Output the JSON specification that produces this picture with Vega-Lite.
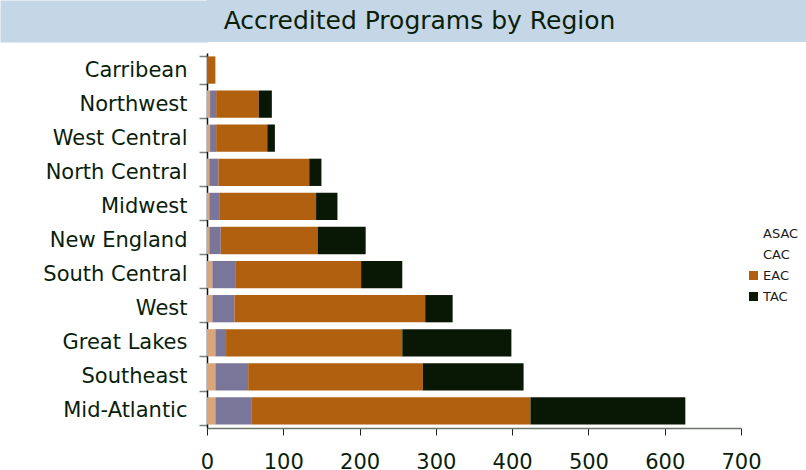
{
  "$schema": "https://vega.github.io/schema/vega-lite/v6.json",
  "padding": {"left": -21, "top": 0, "right": 0, "bottom": 0},
  "background": "white",
  "spacing": 11,
  "bounds": "flush",
  "config": {"view": {"stroke": null}, "font": "DejaVu Sans"},
  "vconcat": [
    {
      "width": 599,
      "height": 42,
      "view": {"fill": "#c5d6e6", "stroke": null},
      "data": {"values": [{"title": "Accredited Programs by Region", "row": "title"}]},
      "mark": {"type": "text", "font": "DejaVu Sans", "fontSize": 25, "color": "#0a1e0a", "dx": -87, "baseline": "middle", "align": "center"},
      "encoding": {
        "y": {
          "field": "row",
          "type": "nominal",
          "scale": {"paddingInner": 0, "paddingOuter": 0},
          "axis": {"title": null, "labels": false, "domain": false, "grid": false, "ticks": true, "tickSize": 207, "tickWidth": 42, "tickCap": "butt", "tickColor": "#c5d6e6"}
        },
        "text": {"field": "title", "type": "nominal"}
      }
    },
    {
      "width": 534,
      "height": 375,
      "data": {
        "values": [
          {"region": "Carribean", "commission": "ASAC", "programs": 0},
          {"region": "Carribean", "commission": "CAC", "programs": 0},
          {"region": "Carribean", "commission": "EAC", "programs": 11},
          {"region": "Carribean", "commission": "TAC", "programs": 0},
          {"region": "Northwest", "commission": "ASAC", "programs": 4},
          {"region": "Northwest", "commission": "CAC", "programs": 8},
          {"region": "Northwest", "commission": "EAC", "programs": 56},
          {"region": "Northwest", "commission": "TAC", "programs": 17},
          {"region": "West Central", "commission": "ASAC", "programs": 4},
          {"region": "West Central", "commission": "CAC", "programs": 8},
          {"region": "West Central", "commission": "EAC", "programs": 67},
          {"region": "West Central", "commission": "TAC", "programs": 10},
          {"region": "North Central", "commission": "ASAC", "programs": 3},
          {"region": "North Central", "commission": "CAC", "programs": 12},
          {"region": "North Central", "commission": "EAC", "programs": 119},
          {"region": "North Central", "commission": "TAC", "programs": 16},
          {"region": "Midwest", "commission": "ASAC", "programs": 3},
          {"region": "Midwest", "commission": "CAC", "programs": 13},
          {"region": "Midwest", "commission": "EAC", "programs": 127},
          {"region": "Midwest", "commission": "TAC", "programs": 28},
          {"region": "New England", "commission": "ASAC", "programs": 3},
          {"region": "New England", "commission": "CAC", "programs": 15},
          {"region": "New England", "commission": "EAC", "programs": 127},
          {"region": "New England", "commission": "TAC", "programs": 63},
          {"region": "South Central", "commission": "ASAC", "programs": 7},
          {"region": "South Central", "commission": "CAC", "programs": 30},
          {"region": "South Central", "commission": "EAC", "programs": 165},
          {"region": "South Central", "commission": "TAC", "programs": 54},
          {"region": "West", "commission": "ASAC", "programs": 7},
          {"region": "West", "commission": "CAC", "programs": 29},
          {"region": "West", "commission": "EAC", "programs": 250},
          {"region": "West", "commission": "TAC", "programs": 36},
          {"region": "Great Lakes", "commission": "ASAC", "programs": 11},
          {"region": "Great Lakes", "commission": "CAC", "programs": 14},
          {"region": "Great Lakes", "commission": "EAC", "programs": 231},
          {"region": "Great Lakes", "commission": "TAC", "programs": 143},
          {"region": "Southeast", "commission": "ASAC", "programs": 11},
          {"region": "Southeast", "commission": "CAC", "programs": 43},
          {"region": "Southeast", "commission": "EAC", "programs": 229},
          {"region": "Southeast", "commission": "TAC", "programs": 132},
          {"region": "Mid-Atlantic", "commission": "ASAC", "programs": 11},
          {"region": "Mid-Atlantic", "commission": "CAC", "programs": 47},
          {"region": "Mid-Atlantic", "commission": "EAC", "programs": 366},
          {"region": "Mid-Atlantic", "commission": "TAC", "programs": 203}
        ]
      },
      "mark": {"type": "bar"},
      "encoding": {
        "y": {
          "field": "region",
          "type": "nominal",
          "sort": ["Carribean", "Northwest", "West Central", "North Central", "Midwest", "New England", "South Central", "West", "Great Lakes", "Southeast", "Mid-Atlantic"],
          "scale": {"paddingInner": 0.2, "paddingOuter": 0.1},
          "axis": {
            "title": null,
            "labelFont": "DejaVu Sans",
            "labelFontSize": 21,
            "labelColor": "#0a1e0a",
            "labelPadding": 12,
            "labelLimit": 400,
            "tickBand": "extent",
            "tickSize": 8,
            "tickColor": "#7a857a",
            "tickWidth": 1.5,
            "domainColor": "#111111",
            "domainWidth": 1.5
          }
        },
        "x": {
          "field": "programs",
          "type": "quantitative",
          "stack": "zero",
          "scale": {"domain": [0, 700], "nice": false},
          "axis": {
            "title": null,
            "values": [0, 100, 200, 300, 400, 500, 600, 700],
            "grid": false,
            "labelFont": "DejaVu Sans",
            "labelFontSize": 21,
            "labelColor": "#0a1e0a",
            "labelPadding": 16,
            "labelFlush": false,
            "tickSize": 7,
            "tickColor": "#222222",
            "domainColor": "#6b756b",
            "domainWidth": 1.5
          }
        },
        "color": {
          "field": "commission",
          "type": "nominal",
          "scale": {"domain": ["ASAC", "CAC", "EAC", "TAC"], "range": ["#dba57a", "#7a769a", "#b0600e", "#081804"]},
          "legend": {
            "title": null,
            "orient": "none",
            "legendX": 540,
            "legendY": 227,
            "padding": 0,
            "symbolType": "square",
            "symbolSize": 81,
            "symbolStrokeWidth": 0,
            "labelFont": "DejaVu Sans",
            "labelFontSize": 13,
            "labelColor": "#1a1a1a",
            "labelOffset": 3,
            "rowPadding": 7,
            "encode": {
              "symbols": {"update": {"fillOpacity": {"signal": "datum.value === 'ASAC' || datum.value === 'CAC' ? 0 : 1"}}}
            }
          }
        }
      }
    }
  ]
}
